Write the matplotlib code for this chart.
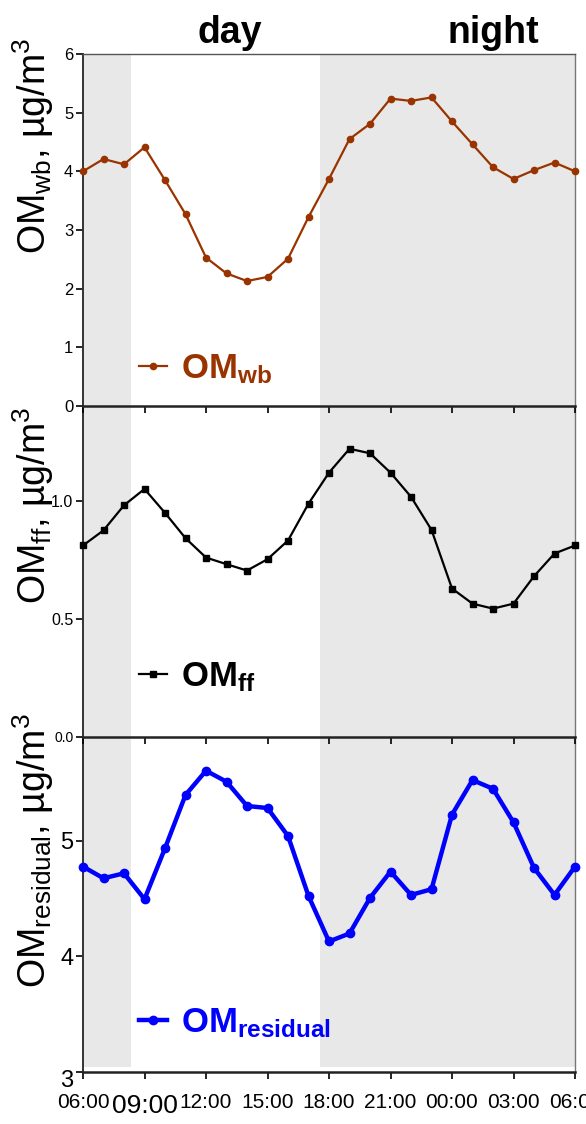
import matplotlib
matplotlib.use('Agg')
import matplotlib.pyplot as plt
from matplotlib.transforms import ScaledTranslation

plt.rcParams['font.family'] = ['Liberation Sans', 'DejaVu Sans']
plt.rcParams['mathtext.fontset'] = 'custom'
plt.rcParams['mathtext.rm'] = 'Liberation Sans'
plt.rcParams['mathtext.bf'] = 'Liberation Sans:bold'
plt.rcParams['mathtext.it'] = 'Liberation Sans:italic'

# hours after 06:00, one point per hour
hours = list(range(25))
tick_pos = [0, 3, 6, 9, 12, 15, 18, 21, 24]
tick_labels = ['06:00', '09:00', '12:00', '15:00', '18:00', '21:00', '00:00', '03:00', '06:00']

om_wb = [4.00, 4.21, 4.12, 4.41, 3.85, 3.27, 2.53, 2.26, 2.13, 2.20, 2.51, 3.22,
         3.87, 4.55, 4.81, 5.24, 5.20, 5.26, 4.85, 4.46, 4.07, 3.87, 4.02, 4.15, 4.00]
om_ff = [0.81, 0.874, 0.98, 1.049, 0.948, 0.841, 0.759, 0.731, 0.704, 0.752, 0.831, 0.987,
         1.118, 1.219, 1.20, 1.118, 1.016, 0.876, 0.628, 0.564, 0.543, 0.564, 0.68, 0.776, 0.81]
om_res = [4.778, 4.677, 4.72, 4.496, 4.937, 5.398, 5.608, 5.513, 5.303, 5.285, 5.043, 4.524,
          4.13, 4.199, 4.507, 4.735, 4.533, 4.582, 5.228, 5.527, 5.452, 5.161, 4.767, 4.533, 4.778]

# shaded night-time periods (hours after 06:00)
night_spans = [(0, 2.33), (11.55, 24)]
shade = '#e8e8e8'

fig = plt.figure(figsize=(5.86, 11.24), dpi=100)
left, width = 83 / 586, 492 / 586
ax1 = fig.add_axes([left, 1 - 406 / 1124, width, 352 / 1124])
ax2 = fig.add_axes([left, 1 - 737 / 1124, width, 331 / 1124])
ax3 = fig.add_axes([left, 1 - 1072 / 1124, width, 335 / 1124])

# upper panels on top so their outward ticks show over the panel below
ax1.set_zorder(3)
ax2.set_zorder(2)
ax3.set_zorder(1)

panels = [
    (ax1, om_wb, '#993300', 'o', 4.5, 1.6, r'OM$_{\mathbf{wb}}$',
     r'OM$_{\mathrm{wb}}$, µg/m$^{3}$', (0, 6), [0, 1, 2, 3, 4, 5, 6], 12, 0.74, 0.105),
    (ax2, om_ff, 'black', 's', 5, 1.6, r'OM$_{\mathbf{ff}}$',
     r'OM$_{\mathrm{ff}}$, µg/m$^{3}$', (0, 1.4), [0.0, 0.5, 1.0], 11.5, 0.70, 0.18),
    (ax3, om_res, '#0000ff', 'o', 6, 3.2, r'OM$_{\mathbf{residual}}$',
     r'OM$_{\mathrm{residual}}$, µg/m$^{3}$', (3, 5.9), [3, 4, 5], 17, 0.66, 0.146),
]

for ax, vals, col, mk, ms, lw, leg, ylab, ylim, yt, ytfs, laby, legy in panels:
    ax.set_facecolor('none')
    for a, b in night_spans:
        if ax is ax3:
            ax.axvspan(a, b, ymin=0.015, color=shade, lw=0, zorder=0)
        else:
            ax.axvspan(a, b, color=shade, lw=0, zorder=0)
    ax.plot(hours, vals, color=col, marker=mk, markersize=ms, lw=lw, label=leg,
            clip_on=False, zorder=3)
    ax.set_xlim(0, 24)
    ax.set_ylim(*ylim)
    ax.set_yticks(yt)
    if ax is ax2:
        ax.set_yticklabels(['0.0', '0.5', '1.0'])
    ax.set_xticks(tick_pos)
    ax.tick_params(axis='y', direction='out', length=5, width=1.2, labelsize=ytfs, pad=2)
    ax.tick_params(axis='x', direction='out', length=5, width=1.2, pad=10)
    ax.spines['left'].set_linewidth(1.4)
    ax.spines['left'].set_color('#333333')
    ax.spines['bottom'].set_linewidth(1.8)
    ax.spines['bottom'].set_color('#222222')
    ax.spines['right'].set_linewidth(1.0)
    ax.spines['right'].set_color('#777777')
    ax.spines['top'].set_linewidth(1.0)
    ax.spines['top'].set_color('#555555')
    ax.set_ylabel(ylab, fontsize=27)
    ax.yaxis.set_label_coords(-0.054, laby)
    ax.legend(loc='center left', bbox_to_anchor=(0.114, legy), frameon=False,
              prop={'weight': 'bold', 'size': 25}, labelcolor='linecolor',
              handlelength=0.8, handletextpad=0.4, borderpad=0, borderaxespad=0)

ax2.spines['top'].set_visible(False)
ax3.spines['top'].set_visible(False)
ax1.tick_params(axis='x', labelbottom=False)
ax2.tick_params(axis='x', labelbottom=False)
ax2.yaxis.get_ticklabels()[0].set_fontsize(10)

ax3.set_xticklabels(tick_labels, fontsize=15)
big = ax3.get_xticklabels()[1]
big.set_fontsize(19)
big.set_transform(big.get_transform() + ScaledTranslation(0, -1 / 72, fig.dpi_scale_trans))
three = ax3.get_yticklabels()[0]
three.set_transform(three.get_transform() + ScaledTranslation(0, -5 / 72, fig.dpi_scale_trans))

fig.text(230 / 586, 1 - 33 / 1124, 'day', fontsize=27, fontweight='bold', ha='center', va='center')
fig.text(493 / 586, 1 - 33 / 1124, 'night', fontsize=27, fontweight='bold', ha='center', va='center')

plt.savefig('out.png', dpi=100)
